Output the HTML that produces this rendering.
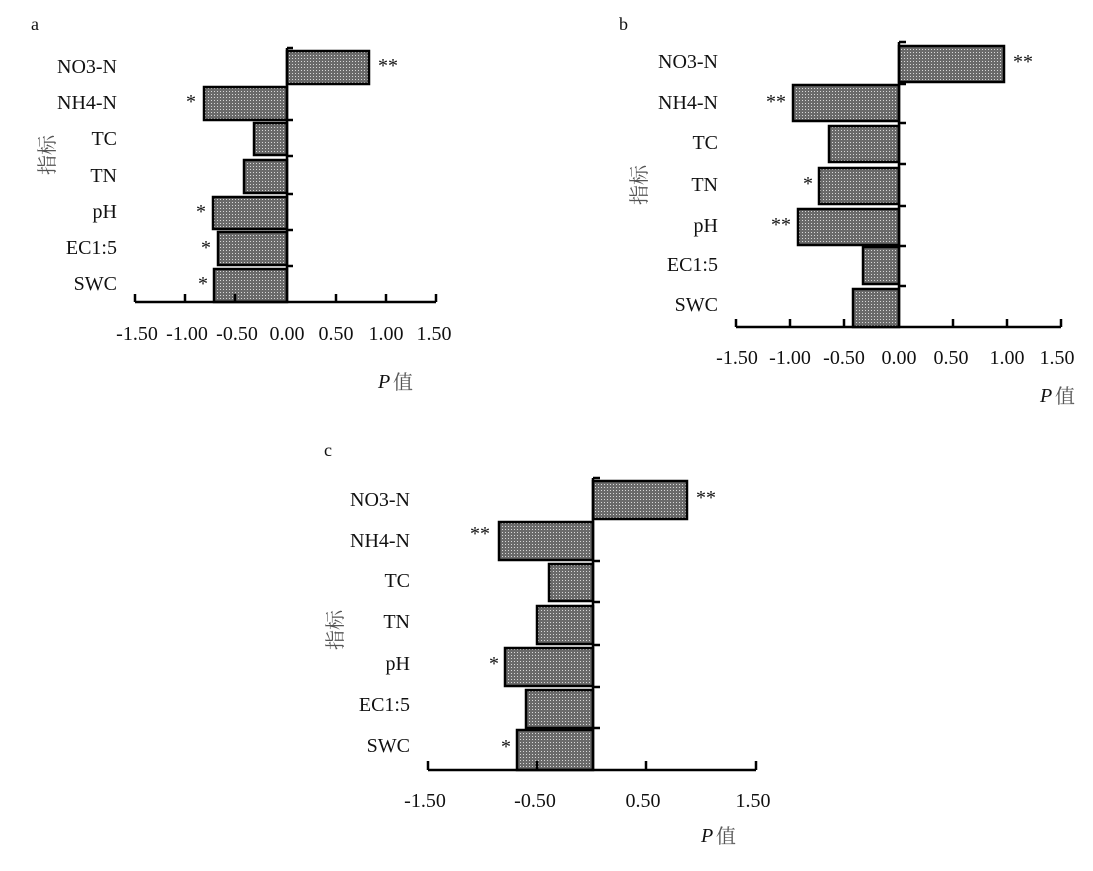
<!DOCTYPE html>
<html><head><meta charset="utf-8"><style>
html,body{margin:0;padding:0;background:#fff;}
svg text{font-family:"Liberation Serif","Noto Serif CJK SC",serif;fill:#111;}
.cn{font-family:"Liberation Serif","Noto Serif CJK SC",serif;fill:#555;}
</style></head><body>
<svg width="1093" height="866" viewBox="0 0 1093 866" xmlns="http://www.w3.org/2000/svg">
<defs>
<pattern id="dot" width="3" height="3" patternUnits="userSpaceOnUse">
<rect width="3" height="3" fill="#6a6a6a"/><rect x="1" y="1" width="1" height="1" fill="#d8d8d8"/>
</pattern>
</defs>
<g stroke="#000" stroke-width="2.5" fill="url(#dot)">
<rect x="287" y="51" width="82" height="33"/>
<rect x="204" y="87" width="83" height="33"/>
<rect x="254" y="123" width="33" height="32"/>
<rect x="244" y="160" width="43" height="33"/>
<rect x="213" y="197" width="74" height="32"/>
<rect x="218" y="232" width="69" height="33"/>
<rect x="214" y="269" width="73" height="33"/>
<rect x="899" y="46" width="105" height="36"/>
<rect x="793" y="85" width="106" height="36"/>
<rect x="829" y="126" width="70" height="36"/>
<rect x="819" y="168" width="80" height="36"/>
<rect x="798" y="209" width="101" height="36"/>
<rect x="863" y="247" width="36" height="37"/>
<rect x="853" y="289" width="46" height="38"/>
<rect x="593" y="481" width="94" height="38"/>
<rect x="499" y="522" width="94" height="38"/>
<rect x="549" y="564" width="44" height="37"/>
<rect x="537" y="606" width="56" height="38"/>
<rect x="505" y="648" width="88" height="38"/>
<rect x="526" y="690" width="67" height="38"/>
<rect x="517" y="730" width="76" height="40"/>
</g>
<g stroke="#000" stroke-width="2.5" fill="none">
<path d="M135 302H436 M135 294V302 M185 294V302 M235 294V302 M336 294V302 M386 294V302 M436 294V302"/>
<path d="M287 48V302 M287 48H293 M287 120H293 M287 156H293 M287 194H293 M287 230H293 M287 266H293"/>
<path d="M736 327H1061 M736 319V327 M790 319V327 M844 319V327 M953 319V327 M1007 319V327 M1061 319V327"/>
<path d="M899 42V327 M899 42H906 M899 84H906 M899 123H906 M899 164H906 M899 206H906 M899 246H906 M899 286H906"/>
<path d="M428 770H756 M428 761V770 M537 761V770 M646 761V770 M756 761V770"/>
<path d="M593 478V770 M593 478H600 M593 561H600 M593 602H600 M593 645H600 M593 687H600 M593 728H600"/>
</g>
<g font-size="20">
<text x="31" y="30" font-size="18">a</text>
<g text-anchor="end">
<text x="117" y="73">NO3-N</text><text x="117" y="109">NH4-N</text><text x="117" y="145">TC</text>
<text x="117" y="182">TN</text><text x="117" y="218">pH</text><text x="117" y="254">EC1:5</text><text x="117" y="290">SWC</text>
</g>
<g text-anchor="middle">
<text x="137" y="340">-1.50</text><text x="187" y="340">-1.00</text><text x="237" y="340">-0.50</text><text x="287" y="340">0.00</text>
<text x="336" y="340">0.50</text><text x="386" y="340">1.00</text><text x="434" y="340">1.50</text>
</g>
<text x="378" y="388" font-style="italic">P</text><text x="393" y="389" class="cn">值</text>
<text transform="translate(54,155) rotate(-90)" text-anchor="middle" class="cn">指标</text>
<text x="378" y="72">**</text><text x="186" y="108">*</text><text x="196" y="218">*</text><text x="201" y="254">*</text><text x="198" y="290">*</text>
<text x="619" y="30" font-size="18">b</text>
<g text-anchor="end">
<text x="718" y="68">NO3-N</text><text x="718" y="109">NH4-N</text><text x="718" y="149">TC</text>
<text x="718" y="191">TN</text><text x="718" y="232">pH</text><text x="718" y="271">EC1:5</text><text x="718" y="311">SWC</text>
</g>
<g text-anchor="middle">
<text x="737" y="364">-1.50</text><text x="790" y="364">-1.00</text><text x="844" y="364">-0.50</text><text x="899" y="364">0.00</text>
<text x="951" y="364">0.50</text><text x="1007" y="364">1.00</text><text x="1057" y="364">1.50</text>
</g>
<text x="1040" y="402" font-style="italic">P</text><text x="1055" y="403" class="cn">值</text>
<text transform="translate(646,185) rotate(-90)" text-anchor="middle" class="cn">指标</text>
<text x="1013" y="68">**</text><text x="766" y="108">**</text><text x="803" y="190">*</text><text x="771" y="231">**</text>
<text x="324" y="456" font-size="18">c</text>
<g text-anchor="end">
<text x="410" y="506">NO3-N</text><text x="410" y="547">NH4-N</text><text x="410" y="587">TC</text>
<text x="410" y="628">TN</text><text x="410" y="670">pH</text><text x="410" y="711">EC1:5</text><text x="410" y="752">SWC</text>
</g>
<g text-anchor="middle">
<text x="425" y="807">-1.50</text><text x="535" y="807">-0.50</text><text x="643" y="807">0.50</text><text x="753" y="807">1.50</text>
</g>
<text x="701" y="842" font-style="italic">P</text><text x="716" y="843" class="cn">值</text>
<text transform="translate(342,630) rotate(-90)" text-anchor="middle" class="cn">指标</text>
<text x="696" y="504">**</text><text x="470" y="540">**</text><text x="489" y="670">*</text><text x="501" y="753">*</text>
</g>
</svg>
</body></html>
